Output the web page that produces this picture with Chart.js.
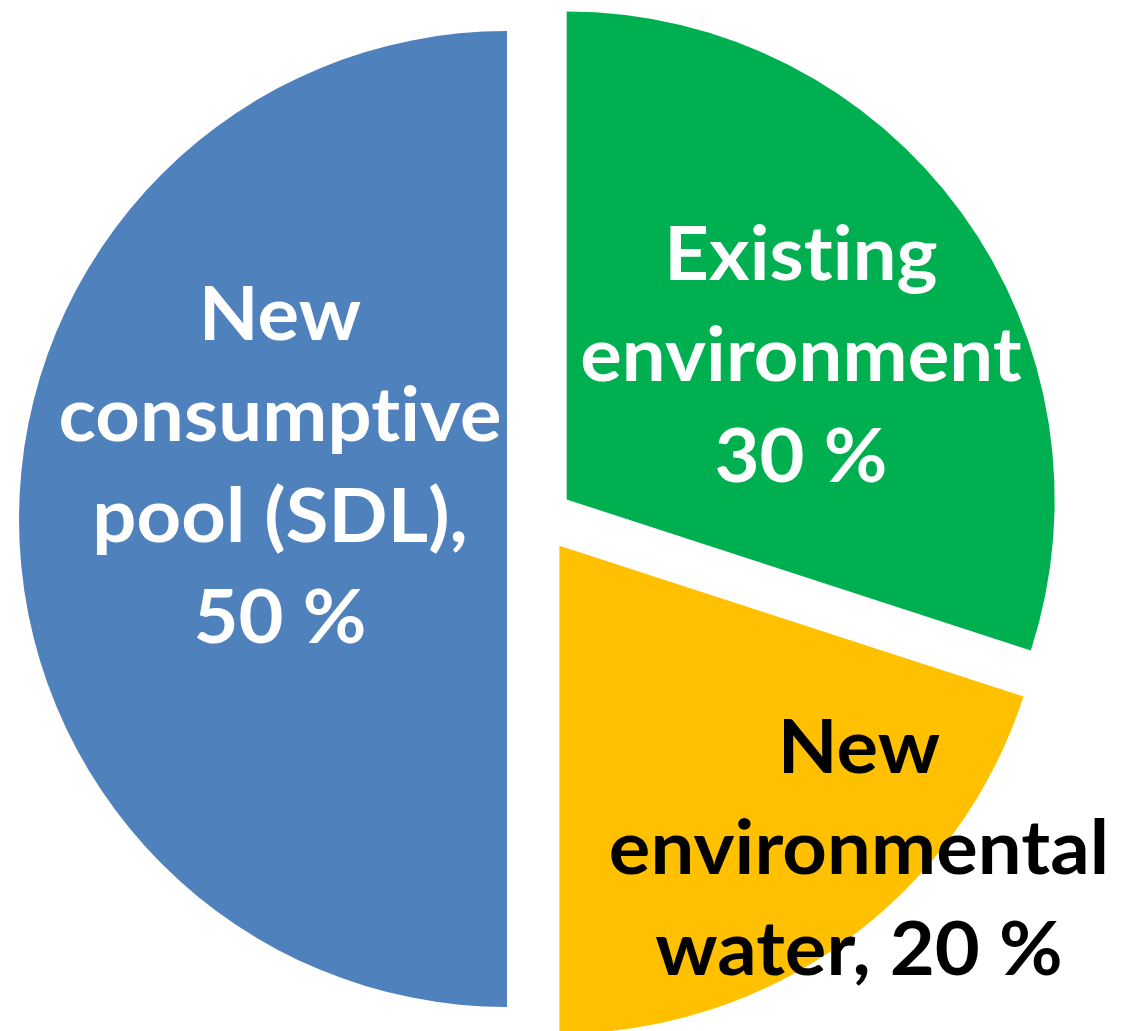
<!doctype html>
<html>
<head>
	<title>Water shares pie</title>
	<script src="https://cdn.jsdelivr.net/npm/chart.js@4.4.0/dist/chart.umd.min.js"></script>
	<style>
	html, body { margin: 0; padding: 0; background: #fff; }
	#wrap { width: 1144px; height: 1031px; }
	</style>
</head>
<body>
	<div id="wrap"><canvas id="canvas"></canvas></div>

	<script>
		// data
		var categories = ['New consumptive pool (SDL)', 'Existing environment', 'New environmental water'];
		var shares = [50, 30, 20];
		var sliceColors = ['#4F81BD', '#00B050', '#FFC000'];
		var labelLines = [
			['New', 'consumptive', 'pool (SDL),', '50 %'],
			['Existing', 'environment', '30 %'],
			['New', 'environmental', 'water, 20 %']
		];
		var labelColors = ['#ffffff', '#ffffff', '#000000'];

		// where each label block sits, relative to pie centre (dx, first baseline dy)
		var labelPos = [[-260, -179], [261, -239], [319, 254]];
		var lineGap = 101;
		var sliceGap = 33;

		// chart.js offset grows a half-circle slice, so push slices out by hand
		var explode = {
			id: 'explode',
			beforeDatasetsDraw: function(chart) {
				chart.getDatasetMeta(0).data.forEach(function(arc) {
					if (arc._exploded) return;
					var draw = arc.draw;
					arc.draw = function(ctx, area) {
						var mid = (this.startAngle + this.endAngle) / 2;
						ctx.save();
						ctx.translate(Math.cos(mid) * sliceGap, Math.sin(mid) * sliceGap);
						draw.call(this, ctx, area);
						ctx.restore();
					};
					arc._exploded = true;
				});
			}
		};

		var sliceLabels = {
			id: 'sliceLabels',
			afterDatasetsDraw: function(chart) {
				var ctx = chart.ctx;
				var arc = chart.getDatasetMeta(0).data[0];
				var cx = arc.x, cy = arc.y;
				ctx.save();
				ctx.font = 'bold 74px Lato';
				ctx.letterSpacing = '0.1px'; // stops the "ti" ligature
				ctx.textAlign = 'center';
				ctx.textBaseline = 'alphabetic';
				var sx = 443 / ctx.measureText('consumptive').width;
				for (var i = 0; i < labelLines.length; i++) {
					ctx.fillStyle = labelColors[i];
					for (var j = 0; j < labelLines[i].length; j++) {
						var x = cx + labelPos[i][0];
						var y = cy + labelPos[i][1] + j * lineGap;
						ctx.save();
						ctx.translate(x, y);
						ctx.scale(sx, 1);
						ctx.fillText(labelLines[i][j], 0, 0);
						ctx.restore();
					}
				}
				ctx.restore();
			}
		};

		var ctx = document.getElementById('canvas').getContext('2d');
		new Chart(ctx, {
			type: 'pie',
			data: {
				labels: categories,
				datasets: [{
					data: shares,
					backgroundColor: sliceColors,
					borderWidth: 0
				}]
			},
			options: {
				responsive: true,
				maintainAspectRatio: false,
				animation: false,
				rotation: 180,
				radius: 488,
				layout: { padding: { left: 0, right: 64, top: 15, bottom: 8 } },
				plugins: {
					legend: { display: false },
					tooltip: { enabled: false }
				}
			},
			plugins: [explode, sliceLabels]
		});
	</script>
</body>
</html>
